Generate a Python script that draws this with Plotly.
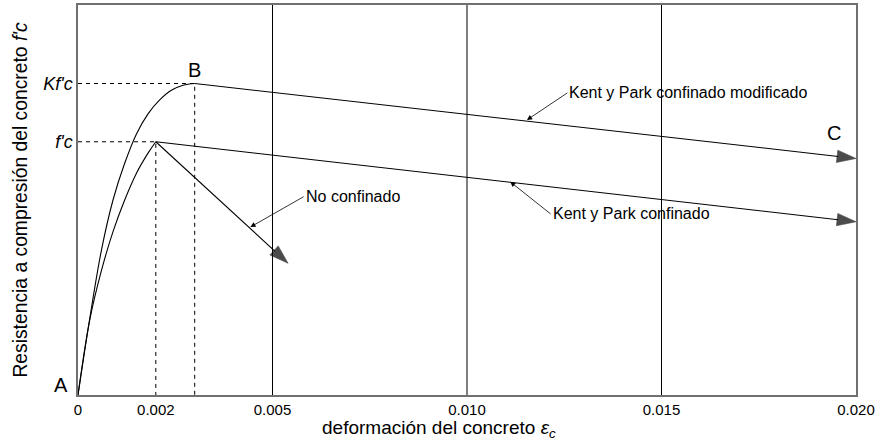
import plotly.graph_objects as go

# ---- data (f'c normalised to 1) ----
fc = 1.0
Kfc = 1.23
eps0 = 0.002
eps0_conf = 0.003

# ascending branch, Kent & Park confined-modified
mod_x = [0.0, 0.0003, 0.0006, 0.0009, 0.0012, 0.0015, 0.0018, 0.0021, 0.0024, 0.0027, 0.003]
mod_y = [0.0, 0.30, 0.57, 0.77, 0.915, 1.03, 1.11, 1.165, 1.203, 1.223, 1.23]
# ascending branch, unconfined
asc_x = [0.0, 0.0003, 0.0006, 0.0009, 0.0012, 0.0015, 0.0018, 0.002]
asc_y = [0.0, 0.295, 0.49, 0.645, 0.77, 0.875, 0.955, 1.0]

# descending branches
nc_x = [0.002, 0.0054]
nc_y = [1.0, 0.52]
kp_x = [0.002, 0.020]
kp_y = [1.0, 0.684]
kpm_x = [0.003, 0.020]
kpm_y = [1.23, 0.934]

x_ticks = [0, 0.002, 0.005, 0.010, 0.015, 0.020]
x_ticktext = ["0", "0.002", "0.005", "0.010", "0.015", "0.020"]
grid_x = [0.005, 0.010, 0.015]
y_ticks = [fc, Kfc]
y_ticktext = ["<i>f'c</i>", "<i>Kf'c</i>"]

FONT = "Liberation Sans, Arial, sans-serif"
BLK = "#000000"

fig = go.Figure()

curve = dict(color=BLK, width=1.1, shape="spline", smoothing=1.0)
fig.add_trace(go.Scatter(x=mod_x, y=mod_y, mode="lines", line=curve, hoverinfo="skip"))
fig.add_trace(go.Scatter(x=asc_x, y=asc_y, mode="lines", line=curve, hoverinfo="skip"))

line = dict(color=BLK, width=1.1)
for xs, ys in [(nc_x, nc_y), (kp_x, kp_y), (kpm_x, kpm_y)]:
    fig.add_trace(go.Scatter(
        x=xs, y=ys, mode="lines+markers", line=line, cliponaxis=False,
        marker=dict(symbol="arrow", size=[0, 20], angleref="previous",
                    color=BLK, line=dict(color=BLK, width=0.6)),
        hoverinfo="skip"))

# dashed guide lines
dash = dict(color=BLK, width=1, dash="4px,4px")
fig.add_trace(go.Scatter(x=[0, eps0, eps0], y=[fc, fc, 0], mode="lines", line=dash, hoverinfo="skip"))
fig.add_trace(go.Scatter(x=[0, eps0_conf, eps0_conf], y=[Kfc, Kfc, 0], mode="lines", line=dash, hoverinfo="skip"))

# vertical grid lines
for gx in grid_x:
    fig.add_shape(type="line", x0=gx, x1=gx, y0=0, y1=1, xref="x", yref="paper",
                  line=dict(color=BLK, width=1), layer="below")

# point labels
fig.add_annotation(x=0, y=0, text="A", showarrow=False, xanchor="right", yanchor="bottom",
                   xshift=-8, yshift=-3, font=dict(size=20, color=BLK, family=FONT))
fig.add_annotation(x=eps0_conf, y=Kfc, text="B", showarrow=False, xanchor="center", yanchor="bottom",
                   yshift=1, font=dict(size=20, color=BLK, family=FONT))
fig.add_annotation(x=kpm_x[1], y=kpm_y[1], text="C", showarrow=False, xanchor="center", yanchor="bottom",
                   xshift=-22, yshift=12, font=dict(size=20, color=BLK, family=FONT))

# curve labels with leaders
def lab(text, tx, ty, ax, ay):
    fig.add_annotation(x=tx, y=ty, ax=ax, ay=ay, axref="x", ayref="y", text=text,
                       showarrow=True, arrowhead=2, arrowsize=1.3, arrowwidth=0.8,
                       arrowcolor=BLK, xanchor="left", standoff=0, startstandoff=0,
                       font=dict(size=16, color=BLK, family=FONT))

lab("Kent y Park confinado modificado", 0.01154, 1.086, 0.01258, 1.193)
lab("Kent y Park confinado", 0.01111, 0.842, 0.01215, 0.715)
lab("No confinado", 0.00443, 0.663, 0.00580, 0.783)

# x-axis title (sits slightly left of centre in the reference)
fig.add_annotation(xref="paper", yref="paper", x=0.464, y=0, xanchor="center", yanchor="middle",
                   yshift=-34, showarrow=False,
                   text="deformación del concreto <i>ε<sub>c</sub></i>",
                   font=dict(size=19, color=BLK, family=FONT))

fig.update_layout(
    width=875, height=443,
    margin=dict(l=78, r=19, t=5, b=48),
    paper_bgcolor="white", plot_bgcolor="white",
    showlegend=False,
    font=dict(family=FONT, color=BLK),
    xaxis=dict(range=[0, 0.020], tickvals=x_ticks, ticktext=x_ticktext,
               showgrid=False, zeroline=False, showline=True, mirror=True,
               linecolor="#707070", linewidth=1.5, ticks="", automargin=False,
               tickfont=dict(size=15, color=BLK)),
    yaxis=dict(range=[0, 1.54], tickvals=y_ticks, ticktext=y_ticktext,
               showgrid=False, zeroline=False, showline=True, mirror=True,
               linecolor="#707070", linewidth=1.5, ticks="", automargin=False,
               tickfont=dict(size=18, color=BLK),
               title=dict(text="Resistencia a compresión del concreto <i>f'c</i>",
                          font=dict(size=19.3, color=BLK), standoff=10)),
)

fig.write_html("out.html", config={"displayModeBar": False},
               post_script="document.body.style.margin='0px';")
